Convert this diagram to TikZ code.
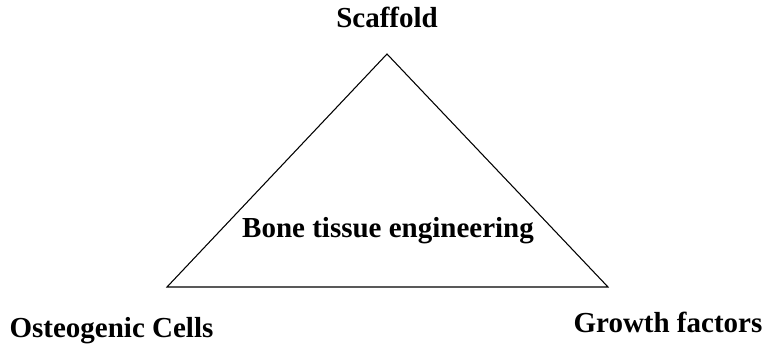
\documentclass[tikz,border=0pt]{standalone}
\usepackage{fontspec}
\setmainfont{Liberation Serif}
\begin{document}
\begin{tikzpicture}[x=0.75pt,y=-0.75pt,
  lbl/.style={font=\fontsize{21.75}{26}\selectfont\bfseries, inner sep=0pt, anchor=base},
  edge/.style={draw=black, line width=0.8pt, line join=miter}]
\useasboundingbox (0,0) rectangle (765,344);
\coordinate (top) at (387,54);
\coordinate (bl) at (167,287);
\coordinate (br) at (608,287);
\draw[edge] (top) -- (br) -- (bl) -- cycle;
\node[lbl] (scaffold) at (387,27) {Scaffold};
\node[lbl] (bte) at (388,237) {Bone tissue engineering};
\node[lbl] (cells) at (111.5,337) {Osteogenic Cells};
\node[lbl] (growth) at (668,332) {Growth factors};
\end{tikzpicture}
\end{document}
